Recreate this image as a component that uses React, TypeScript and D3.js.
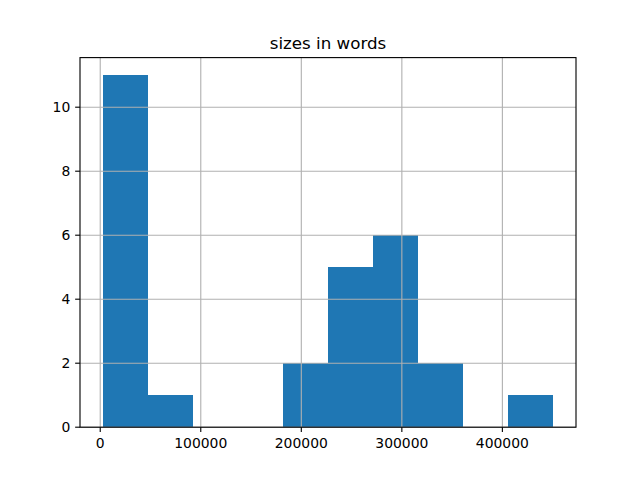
import React from "react";
import * as d3 from "d3";

const title = "sizes in words";
const counts = [11, 1, 0, 0, 2, 5, 6, 2, 0, 1];
const dataMin = 2300;
const dataMax = 450800;
const xTicks = [0, 100000, 200000, 300000, 400000];
const yTicks = [0, 2, 4, 6, 8, 10];

const W = 640, H = 480;
const L = 80, R = 576, T = 57.6, B = 427.2;

export default function App() {
  const nb = counts.length;
  const step = (dataMax - dataMin) / nb;
  const edges = d3.range(nb + 1).map((i) => dataMin + i * step);
  const margin = (dataMax - dataMin) * 0.05;
  const x = d3.scaleLinear().domain([dataMin - margin, dataMax + margin]).range([L, R]);
  const yMax = (d3.max(counts) as number) * 1.05;
  const y = d3.scaleLinear().domain([0, yMax]).range([B, T]);
  const font = "DejaVu Sans, sans-serif";
  const grid = "#b0b0b0";
  return (
    <svg width={W} height={H} style={{ position: "absolute", left: 0, top: 0, background: "#fff" }}>
      <rect x={0} y={0} width={W} height={H} fill="#fff" />
      {counts.map((c, i) =>
        c > 0 ? (
          <rect
            key={i}
            x={x(edges[i])}
            y={y(c)}
            width={x(edges[i + 1]) - x(edges[i])}
            height={y(0) - y(c)}
            fill="#1f77b4"
            shapeRendering="crispEdges"
          />
        ) : null
      )}
      {xTicks.map((t) => (
        <line key={"gx" + t} x1={x(t)} x2={x(t)} y1={T} y2={B} stroke={grid} strokeWidth={1.11} />
      ))}
      {yTicks.map((t) => (
        <line key={"gy" + t} x1={L} x2={R} y1={y(t)} y2={y(t)} stroke={grid} strokeWidth={1.11} />
      ))}
      <rect x={L} y={T} width={R - L} height={B - T} fill="none" stroke="#000" strokeWidth={1.11} />
      {xTicks.map((t) => (
        <g key={"tx" + t}>
          <line x1={x(t)} x2={x(t)} y1={B} y2={B + 4.86} stroke="#000" strokeWidth={1.11} />
          <text x={x(t)} y={B + 20.5} textAnchor="middle" fontFamily={font} fontSize={13.9} fill="#000">
            {t}
          </text>
        </g>
      ))}
      {yTicks.map((t) => (
        <g key={"ty" + t}>
          <line x1={L - 4.86} x2={L} y1={y(t)} y2={y(t)} stroke="#000" strokeWidth={1.11} />
          <text x={L - 9.7} y={y(t)} dy="0.36em" textAnchor="end" fontFamily={font} fontSize={13.9} fill="#000">
            {t}
          </text>
        </g>
      ))}
      <text x={(L + R) / 2} y={T - 8.3} textAnchor="middle" fontFamily={font} fontSize={16.7} fill="#000">
        {title}
      </text>
    </svg>
  );
}
